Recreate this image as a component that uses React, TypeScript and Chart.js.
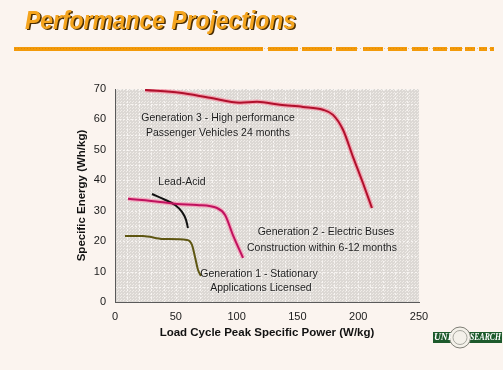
import React, { useEffect, useRef } from 'react';
import { Chart, registerables } from 'chart.js';

Chart.register(...registerables);

// ---- data ----
const xTickValues = [0, 50, 100, 150, 200, 250];
const yTickValues = [0, 10, 20, 30, 40, 50, 60, 70];

const gen3X = [24.7, 53.5, 78.1, 102.8, 116.8, 135.7, 154.6, 171, 179.3, 187.5, 195.7, 203.9, 211.3];
const gen3Y = [69.7, 68.75, 67.1, 65.5, 65.8, 64.8, 64.1, 63.2, 61.5, 56.6, 47.7, 39.1, 30.9];

const gen2X = [10.7, 37, 51, 67.4, 83.9, 90.5, 97, 105.3];
const gen2Y = [33.9, 32.9, 32.2, 31.9, 30.9, 28.6, 22, 14.5];

const leadX = [30.4, 41.1, 49.3, 55.1, 58.4, 60];
const leadY = [35.5, 33.6, 31.9, 29.6, 27, 24.3];

const gen1X = [8.2, 23, 39.5, 59.2, 63.3, 65.8, 68.3, 70.7];
const gen1Y = [21.7, 21.7, 20.7, 20.4, 18.8, 14.8, 10.5, 8.6];

const titleText = 'Performance Projections';
const xAxisTitle = 'Load Cycle Peak Specific Power (W/kg)';
const yAxisTitle = 'Specific Energy (Wh/kg)';

const noteTexts = [
  'Generation 3 - High performance',
  'Passenger Vehicles 24 months',
  'Lead-Acid',
  'Generation 2 - Electric Buses',
  'Construction within 6-12 months',
  'Generation 1 - Stationary',
  'Applications Licensed',
];
const noteX = [84.7, 84.7, 55.1, 173.5, 170.2, 118.4, 120];
const noteY = [60.5, 55.6, 39.5, 23, 17.8, 9.2, 4.6];

const pts = (xs: number[], ys: number[]) => xs.map((x, i) => ({ x, y: ys[i] }));

const FONT = "'Liberation Sans', Arial, sans-serif";

const decorPlugin = {
  id: 'decor',
  beforeDraw(chart: any) {
    const { ctx, chartArea: a } = chart;
    ctx.save();
    ctx.fillStyle = '#fbf4ef';
    ctx.fillRect(0, 0, chart.width, chart.height);
    // plot background with stipple
    const tile = document.createElement('canvas');
    tile.width = 3; tile.height = 3;
    const t = tile.getContext('2d')!;
    t.fillStyle = '#dcd8d4';
    t.fillRect(0, 0, 3, 3);
    t.fillStyle = '#f0ece8';
    t.fillRect(0, 0, 1, 1);
    t.fillRect(1, 2, 1, 1);
    ctx.fillStyle = ctx.createPattern(tile, 'repeat');
    ctx.fillRect(a.left, a.top, a.right - a.left, a.bottom - a.top);
    // light grid
    const xs = chart.scales.x, ys = chart.scales.y;
    ctx.strokeStyle = 'rgba(252,250,248,0.8)';
    ctx.lineWidth = 1;
    ctx.setLineDash([2, 2]);
    for (let v = 10; v < 250; v += 10) {
      const px = Math.round(xs.getPixelForValue(v)) + 0.5;
      ctx.beginPath(); ctx.moveTo(px, a.top); ctx.lineTo(px, a.bottom); ctx.stroke();
    }
    for (let v = 5; v <= 70; v += 5) {
      const py = Math.round(ys.getPixelForValue(v)) + 0.5;
      ctx.beginPath(); ctx.moveTo(a.left, py); ctx.lineTo(a.right, py); ctx.stroke();
    }
    ctx.setLineDash([]);

    // title
    ctx.font = `italic bold 25px ${FONT}`;
    ctx.textBaseline = 'alphabetic';
    ctx.textAlign = 'left';
    ctx.fillStyle = '#4a2e05';
    ctx.fillText(titleText, 26.5, 30, 271);
    ctx.fillStyle = '#f4a41e';
    ctx.fillText(titleText, 25, 28.5, 271);

    // orange rule
    ctx.fillStyle = '#f39a0a';
    ctx.fillRect(14, 47, 249, 4);
    const segs = [[268, 298], [302, 332], [336, 357], [363, 383], [388, 407], [412, 428], [433, 447], [450, 462], [465, 475], [479, 487], [490, 494]];
    segs.forEach(([s, e]) => ctx.fillRect(s, 47, e - s, 4));
    ctx.fillStyle = 'rgba(190,110,0,0.35)';
    for (let x = 15; x < 494; x += 3) ctx.fillRect(x, 48, 1, 1);

    // logo
    ctx.fillStyle = '#1d5a2c';
    ctx.fillRect(433, 332, 69, 11);
    ctx.beginPath(); ctx.arc(460, 337.5, 10.5, 0, Math.PI * 2);
    ctx.fillStyle = '#f4f1ea'; ctx.fill();
    ctx.strokeStyle = '#7f7f76'; ctx.lineWidth = 1; ctx.stroke();
    ctx.beginPath(); ctx.arc(460, 337.5, 7, 0, Math.PI * 2);
    ctx.strokeStyle = '#a8a8a0'; ctx.stroke();
    ctx.font = `italic bold 9.5px 'Liberation Serif', serif`;
    ctx.fillStyle = '#ffffff';
    ctx.textBaseline = 'middle';
    ctx.fillText('UNI', 434, 338);
    ctx.fillText('SEARCH', 470, 338, 31);
    ctx.restore();
  },
  afterDatasetsDraw(chart: any) {
    const { ctx } = chart;
    const xs = chart.scales.x, ys = chart.scales.y;
    ctx.save();
    ctx.font = `10.5px ${FONT}`;
    ctx.textAlign = 'center';
    ctx.textBaseline = 'middle';
    noteTexts.forEach((txt, i) => {
      const px = xs.getPixelForValue(noteX[i]);
      const py = ys.getPixelForValue(noteY[i]);
      ctx.fillStyle = 'rgba(255,255,255,0.5)';
      ctx.fillText(txt, px + 0.7, py + 0.7);
      ctx.fillStyle = '#1c1c1c';
      ctx.fillText(txt, px, py);
    });
    ctx.restore();
  },
};

export default function App() {
  const ref = useRef<HTMLCanvasElement>(null);
  useEffect(() => {
    if (!ref.current) return;
    const line = (xs: number[], ys: number[], color: string, w: number, order: number) => ({
      data: pts(xs, ys), borderColor: color, borderWidth: w, pointRadius: 0, order,
      cubicInterpolationMode: 'monotone' as const, fill: false,
    });
    const chart = new Chart(ref.current, {
      type: 'line',
      data: {
        datasets: [
          line(gen3X, gen3Y, 'rgba(246,140,160,0.7)', 4.5, 5),
          line(gen3X, gen3Y, '#b0102c', 2, 1),
          line(gen2X, gen2Y, 'rgba(246,150,180,0.7)', 4.5, 5),
          line(gen2X, gen2Y, '#c0125e', 2, 1),
          line(leadX, leadY, '#121212', 2, 1),
          line(gen1X, gen1Y, '#5e5612', 2, 1),
        ],
      },
      options: {
        responsive: false,
        animation: false,
        events: [],
        layout: { padding: { left: 71, right: 84, top: 89, bottom: 26 } },
        plugins: { legend: { display: false }, tooltip: { enabled: false }, title: { display: false } },
        scales: {
          x: {
            type: 'linear', min: 0, max: 250,
            afterBuildTicks: (s: any) => { s.ticks = xTickValues.map(v => ({ value: v })); },
            afterFit: (s: any) => { s.height = 42; },
            grid: { display: false, drawTicks: false },
            border: { display: true, color: '#5a5a5a', width: 1 },
            ticks: { padding: 8, color: '#1a1a1a', font: { family: FONT, size: 11 }, maxRotation: 0 },
            title: { display: true, text: xAxisTitle, color: '#111', font: { family: FONT, size: 11.5, weight: 'bold' } },
          },
          y: {
            type: 'linear', min: 0, max: 70,
            afterBuildTicks: (s: any) => { s.ticks = yTickValues.map(v => ({ value: v })); },
            afterFit: (s: any) => { s.width = 44; },
            grid: { display: false, drawTicks: false },
            border: { display: true, color: '#5a5a5a', width: 1 },
            ticks: { padding: 9, color: '#1a1a1a', font: { family: FONT, size: 11 } },
            title: { display: true, text: yAxisTitle, color: '#111', font: { family: FONT, size: 11.5, weight: 'bold' } },
          },
        },
      },
      plugins: [decorPlugin],
    });
    return () => chart.destroy();
  }, []);
  return (
    <div style={{ position: 'fixed', left: 0, top: 0, width: 503, height: 370 }}>
      <canvas ref={ref} width={503} height={370} style={{ display: 'block' }} />
    </div>
  );
}
